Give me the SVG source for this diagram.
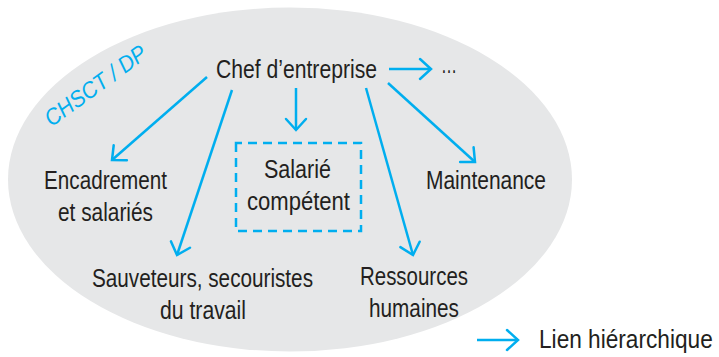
<svg xmlns="http://www.w3.org/2000/svg" width="719" height="357" viewBox="0 0 719 357">
<style>
.lbl{font-family:"Liberation Sans",Arial,sans-serif;font-size:25.5px;fill:#231f20;text-anchor:middle}
.big{font-size:26.5px;text-anchor:start}
.conn{stroke:#00aeef;stroke-width:2.5;fill:none;marker-end:url(#ah)}
</style>
<defs>
<marker id="ah" markerUnits="userSpaceOnUse" markerWidth="30" markerHeight="30" viewBox="-15 -15 30 30" refX="0" refY="0" orient="auto">
<path d="M-11,-10 L0,0 L-11,10" fill="none" stroke="#00aeef" stroke-width="2.5" stroke-linecap="round" stroke-linejoin="miter"/>
</marker>
</defs>
<rect width="719" height="357" fill="#ffffff"/>
<ellipse id="zone" cx="290" cy="179.5" rx="282" ry="172" fill="#e6e7e8"/>
<text id="chsct" transform="translate(100,92) rotate(-36)" font-family="Liberation Sans,Arial,sans-serif" font-size="23" font-style="italic" fill="#00aeef" text-anchor="middle" textLength="120" lengthAdjust="spacingAndGlyphs">CHSCT / DP</text>
<g id="connectors">
<line class="conn" x1="207" y1="77" x2="112" y2="160"/>
<line class="conn" x1="232" y1="90" x2="177" y2="255"/>
<line class="conn" x1="296" y1="88" x2="296" y2="130"/>
<line class="conn" x1="366" y1="88" x2="413" y2="255"/>
<line class="conn" x1="388" y1="83" x2="475" y2="162"/>
<line class="conn" x1="389" y1="69" x2="431" y2="69"/>
</g>
<g id="chef"><text class="lbl" x="296.5" y="78" textLength="161" lengthAdjust="spacingAndGlyphs">Chef d’entreprise</text></g>
<g id="etc"><text class="lbl" x="449" y="73" textLength="16" lengthAdjust="spacingAndGlyphs">…</text></g>
<g id="encadrement">
<text class="lbl" x="105.5" y="189" textLength="123" lengthAdjust="spacingAndGlyphs">Encadrement</text>
<text class="lbl" x="105.5" y="221" textLength="95" lengthAdjust="spacingAndGlyphs">et salariés</text>
</g>
<g id="sauveteurs">
<text class="lbl" x="202.5" y="287" textLength="221" lengthAdjust="spacingAndGlyphs">Sauveteurs, secouristes</text>
<text class="lbl" x="203" y="319" textLength="86" lengthAdjust="spacingAndGlyphs">du travail</text>
</g>
<g id="salarie">
<rect x="236" y="143" width="125" height="88" fill="none" stroke="#00aeef" stroke-width="2.5" stroke-dasharray="9 6" stroke-dashoffset="3"/>
<text class="lbl" x="297.5" y="178" textLength="67" lengthAdjust="spacingAndGlyphs">Salarié</text>
<text class="lbl" x="298.5" y="210" textLength="103" lengthAdjust="spacingAndGlyphs">compétent</text>
</g>
<g id="rh">
<text class="lbl" x="414" y="285" textLength="108" lengthAdjust="spacingAndGlyphs">Ressources</text>
<text class="lbl" x="414" y="317" textLength="90" lengthAdjust="spacingAndGlyphs">humaines</text>
</g>
<g id="maintenance"><text class="lbl" x="486" y="189" textLength="120" lengthAdjust="spacingAndGlyphs">Maintenance</text></g>
<g id="legend">
<line class="conn" x1="477" y1="340" x2="518" y2="340"/>
<text class="lbl big" transform="translate(539,348) scale(0.855,1)" x="0" y="0">Lien hiérarchique</text>
</g>
</svg>
